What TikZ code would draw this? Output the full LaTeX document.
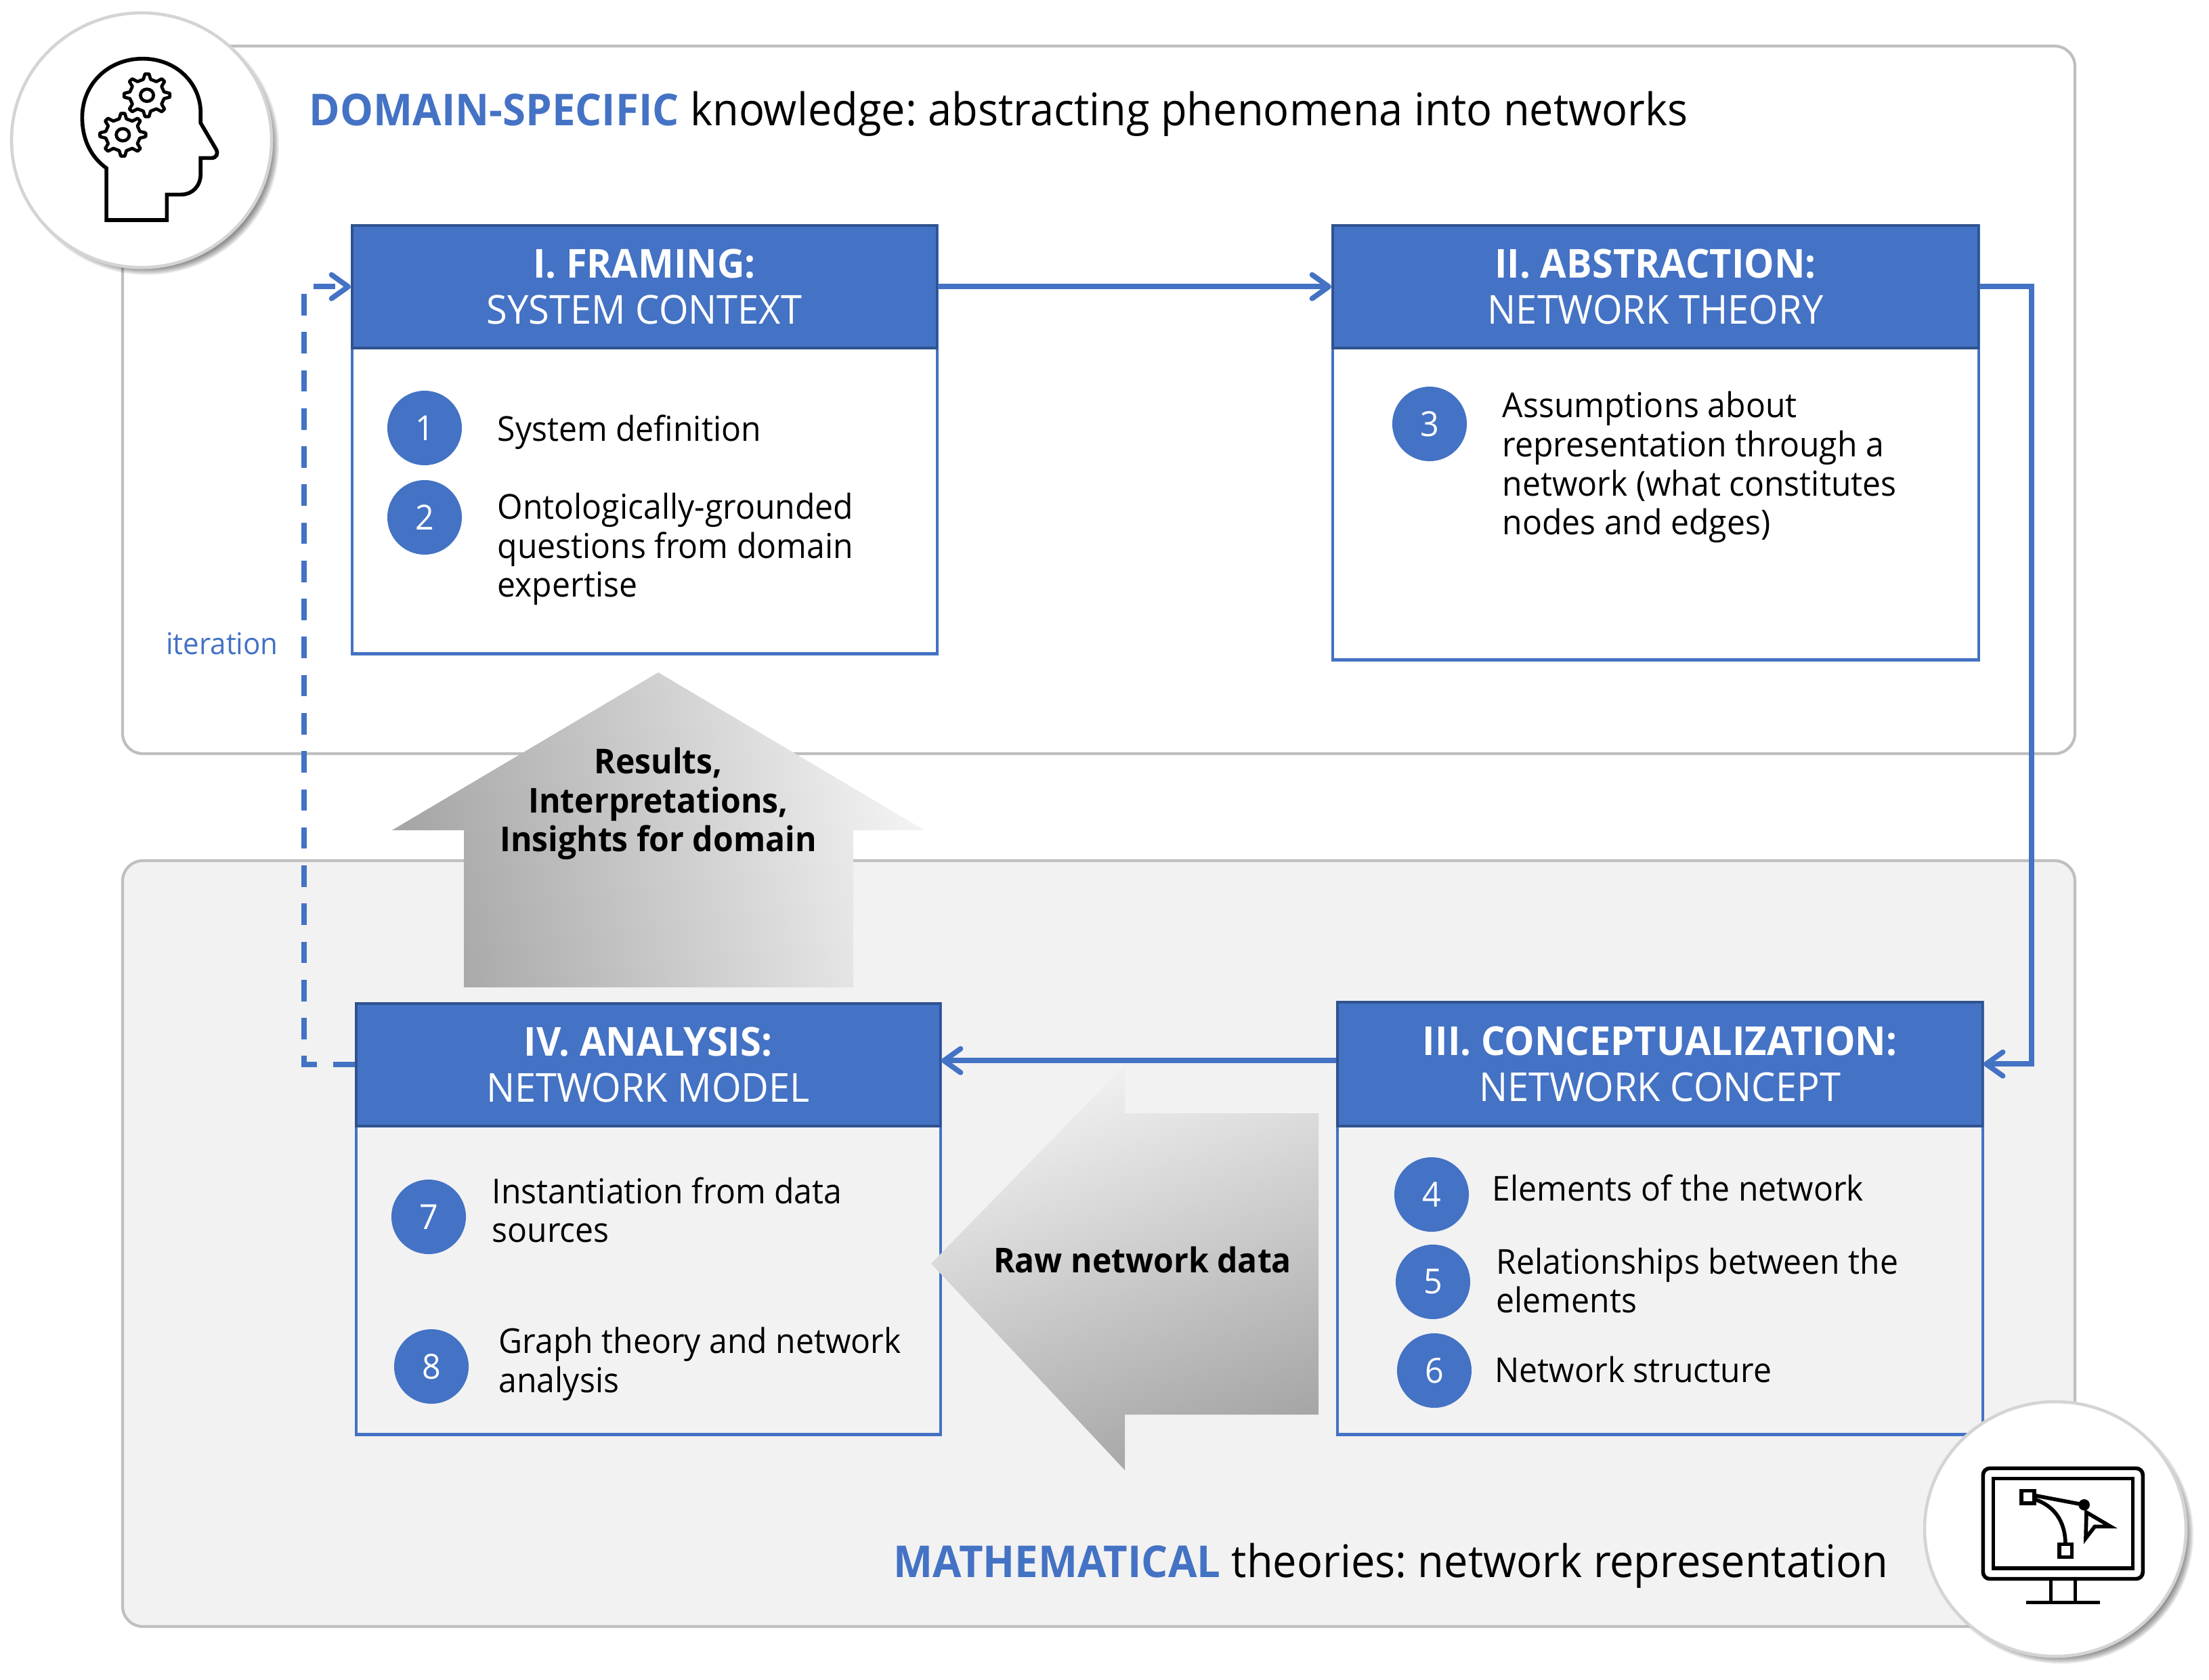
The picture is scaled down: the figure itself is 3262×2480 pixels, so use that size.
\documentclass[tikz,border=0pt]{standalone}
\usepackage{fontspec}
\setmainfont[FakeStretch=0.95]{Open Sans}
\frenchspacing
\usetikzlibrary{arrows.meta,calc}
\definecolor{bl}{HTML}{4472C4}
\definecolor{bld}{HTML}{2F528F}
\definecolor{pan}{HTML}{BFBFBF}
\definecolor{pfill}{HTML}{F2F2F2}
\tikzset{
 panel/.style={draw=pan,line width=1.2pt,rounded corners=0.3cm},
 hdr/.style={draw=bld,fill=bl,line width=1pt,anchor=north west,inner sep=0pt,text=white,align=center,font=\fontsize{16.76}{19.3}\selectfont},
 bodybox/.style={draw=bl,line width=1.2pt,anchor=north west,inner sep=0pt},
 num/.style={circle,fill=bl,minimum size=1.1cm,inner sep=0pt,text=white,font=\fontsize{14.5}{16}\selectfont},
 lbl/.style={anchor=west,align=left,inner sep=0pt,font=\fontsize{14.4}{16.4}\selectfont},
 arr/.style={draw=bl,line width=2.2pt,-{Straight Barb[length=7pt,width=10pt,round]}},
 arrtext/.style={align=center,inner sep=0pt,font=\fontsize{14.4}{16.4}\selectfont\bfseries},
 icon/.style={draw=black,line width=1.6pt},
 ttl/.style={anchor=west,inner sep=0pt,font=\fontsize{18.9}{22}\selectfont}
}
\newcommand{\ttlword}[1]{\textcolor{bl}{\fontsize{18.45}{22}\selectfont\bfseries #1}}
\newcommand{\roundbadge}[4]{%
 \foreach \i in {0,...,9}{\fill[black,opacity=0.07] (#1+8,#2+8) ellipse [x radius={(#3+3-\i*1.5)*0.01cm},y radius={(#4+3-\i*1.5)*0.01cm}];}
 \fill[white,draw=black!17,line width=1.3pt] (#1,#2) ellipse [x radius=#3*0.01cm,y radius=#4*0.01cm];
}
\newcommand{\gearicon}[2]{%
 \begin{scope}[shift={(#1,#2)}]
 \draw[icon,line width=1.35pt,fill=white,line join=round] (-12:72) \foreach \a in {0,45,...,315}{ -- (\a-12:72) -- (\a-5:95) -- (\a+5:95) -- (\a+12:72) -- (\a+33:72)} -- cycle;
 \draw[icon,line width=1.35pt] (0,0) circle [radius=0.27cm];
 \end{scope}
}
\begin{document}
\begin{tikzpicture}[x=0.01cm,y=-0.01cm]
\useasboundingbox (0,0) rectangle (3262,2480);
% panels
\draw[panel,fill=white] (181,68) rectangle (3064,1113);
\draw[panel,fill=pfill] (181,1271) rectangle (3064,2402);
% titles
\node[ttl] (t1) at (456,168) {\ttlword{DOMAIN-SPECIFIC} knowledge: abstracting phenomena into networks};
\node[ttl] (t2) at (1319,2312) {\ttlword{MATHEMATICAL} theories: network representation};
% boxes
\node[bodybox,minimum width=8.63cm,minimum height=6.32cm] (b1) at (518,331) {};
\node[bodybox,minimum width=9.53cm,minimum height=6.41cm] (b2) at (1966,331) {};
\node[bodybox,minimum width=9.52cm,minimum height=6.38cm] (b3) at (1973,1478) {};
\node[bodybox,minimum width=8.62cm,minimum height=6.36cm] (b4) at (524,1480) {};
\node[hdr,minimum width=8.63cm,minimum height=1.81cm] (h1) at (518,331) {\textbf{I. FRAMING:}\\SYSTEM CONTEXT};
\node[hdr,minimum width=9.53cm,minimum height=1.81cm] (h2) at (1966,331) {\textbf{II. ABSTRACTION:}\\NETWORK THEORY};
\node[hdr,minimum width=9.52cm,minimum height=1.83cm] (h3) at (1973,1478) {\textbf{III. CONCEPTUALIZATION:}\\NETWORK CONCEPT};
\node[hdr,minimum width=8.62cm,minimum height=1.81cm] (h4) at (524,1480) {\textbf{IV. ANALYSIS:}\\NETWORK MODEL};
% numbers
\node[num] (n1) at (627,632) {1};
\node[num] (n2) at (627,764) {2};
\node[num] (n3) at (2111,626) {3};
\node[num] (n4) at (2114,1764) {4};
\node[num] (n5) at (2116,1893) {5};
\node[num] (n6) at (2118,2024) {6};
\node[num] (n7) at (633,1797) {7};
\node[num] (n8) at (637,2018) {8};
% labels
\node[lbl] (l1) at (734,638) {System definition};
\node[lbl] (l2) at (734,811) {Ontologically-grounded\\questions from domain\\expertise};
\node[lbl] (l3) at (2218,690) {Assumptions about\\representation through a\\network (what constitutes\\nodes and edges)};
\node[lbl] (l4) at (2203,1754) {Elements of the network};
\node[lbl] (l5) at (2209,1891) {Relationships between the\\elements};
\node[lbl] (l6) at (2207,2022) {Network structure};
\node[lbl] (l7) at (726,1787) {Instantiation from data\\sources};
\node[lbl] (l8) at (736,2014) {Graph theory and network\\analysis};
% big arrows
\path[top color=pfill,bottom color=black!35,shading angle=-78] (972,993) -- (1365,1226) -- (1260,1226) -- (1260,1458) -- (685,1458) -- (685,1226) -- (579,1226) -- cycle;
\path[top color=pfill,bottom color=black!35,shading angle=20] (1375,1866) -- (1661,1573) -- (1661,1644) -- (1947,1644) -- (1947,2089) -- (1661,2089) -- (1661,2171) -- cycle;
\node[arrtext] (a1) at (972,1187) {Results,\\Interpretations,\\Insights for domain};
\node[arrtext] (a2) at (1687,1860) {Raw network data};
% connectors
\draw[arr] (h1.east) -- (h2.west);
\coordinate (c23) at (3000,1000);
\draw[arr] (h2.east) -| (c23) |- (h3.east);
\coordinate (s3) at ([yshift=0.05cm]h3.west);
\draw[arr] (s3) -- (s3 -| h4.east);
\coordinate (c41) at (449,1000);
\draw[arr,dash pattern=on 9pt off 7pt] (h4.west) -| (c41) |- (h1.west);
\node[anchor=center,inner sep=0pt,text=bl,font=\fontsize{12.6}{14}\selectfont] (it) at (328,950) {iteration};
% badges
\roundbadge{209}{207}{192}{188}
\roundbadge{3035}{2258}{193}{188}
% head icon
\begin{scope}[xscale=0.357,yscale=0.3333]
\draw[icon,line join=miter] (440,975) -- (440,745) .. controls (370,690) and (340,610) .. (340,520)
 .. controls (340,370) and (450,260) .. (590,260)
 .. controls (730,260) and (830,370) .. (830,500) -- (830,545) -- (893,660)
 .. controls (905,680) and (895,700) .. (875,700) -- (830,700) -- (830,770)
 .. controls (830,825) and (795,862) .. (750,862) -- (690,862) -- (690,975) -- cycle;
\gearicon{608}{422}
\gearicon{508}{597}
\end{scope}
% monitor icon
\begin{scope}[shift={(2780,2020)},scale=0.3333]
\draw[icon,rounded corners=0.1cm] (445,445) rectangle (1153,935);
\draw[icon] (490,490) rectangle (1108,888);
\draw[icon] (745,935) -- (745,1040);
\draw[icon] (853,935) -- (853,1040);
\draw[icon] (637,1040) -- (962,1040);
\draw[icon] (615,545) rectangle (672,600);
\draw[icon] (783,782) rectangle (838,838);
\draw[icon] (672,565) -- (893,607);
\fill[black] (893,607) circle [radius=0.25cm];
\draw[icon] (672,582) .. controls (760,610) and (810,680) .. (810,782);
\draw[icon,line join=miter] (903,640) -- (1010,703) -- (940,703) -- (900,755) -- cycle;
\end{scope}
\end{tikzpicture}
\end{document}
